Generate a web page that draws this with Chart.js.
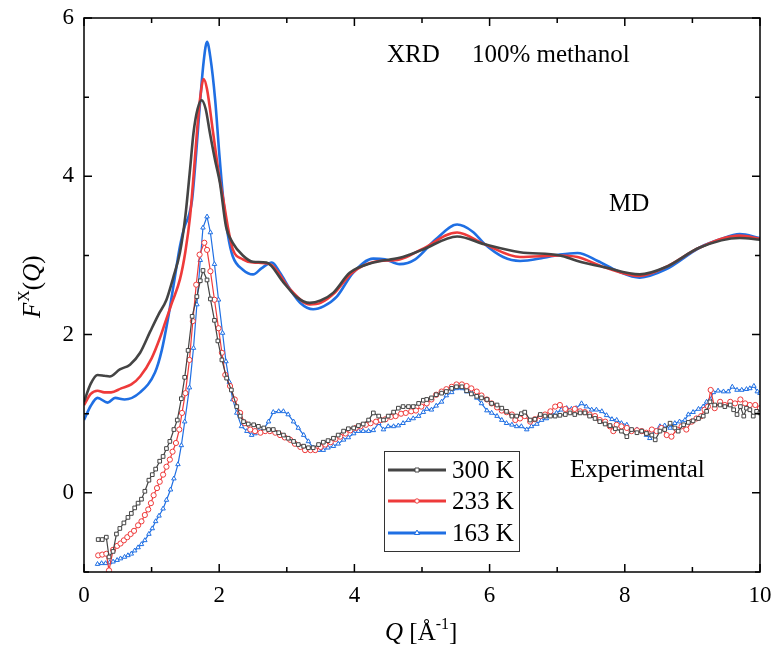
<!DOCTYPE html>
<html>
<head>
<meta charset="utf-8">
<script src="https://cdn.jsdelivr.net/npm/chart.js@4/dist/chart.umd.min.js"></script>
<style>
  body { margin: 0; background: #fff; }
</style>
</head>
<body>
<canvas id="chart" width="774" height="651"></canvas>
<script>
// MD curves (smooth lines)
const qMd300 = [0, 0.1, 0.2, 0.3, 0.38, 0.53, 0.68, 0.83, 0.98, 1.1, 1.22, 1.32, 1.42, 1.5, 1.57, 1.62, 1.68, 1.74, 1.8, 1.86, 1.94, 2.01, 2.1, 2.2, 2.35, 2.5, 2.7, 2.95, 3.15, 3.34, 3.5, 3.69, 3.93, 4.28, 4.67, 5.0, 5.52, 5.93, 6.45, 7.04, 7.3, 7.7, 8.22, 8.6, 9.11, 9.7, 10];
const fMd300 = [1.15, 1.38, 1.49, 1.48, 1.47, 1.56, 1.62, 1.77, 2.04, 2.25, 2.44, 2.72, 3.04, 3.5, 4.1, 4.55, 4.85, 4.96, 4.85, 4.56, 4.2, 3.92, 3.37, 3.16, 3.0, 2.92, 2.91, 2.66, 2.47, 2.4, 2.43, 2.53, 2.78, 2.91, 2.97, 3.07, 3.24, 3.14, 3.04, 3.0, 2.93, 2.85, 2.76, 2.85, 3.1, 3.22, 3.2];

const qMd233 = [0, 0.1, 0.2, 0.3, 0.4, 0.55, 0.7, 0.83, 1.0, 1.12, 1.2, 1.3, 1.42, 1.5, 1.57, 1.62, 1.67, 1.72, 1.77, 1.82, 1.91, 2.0, 2.06, 2.13, 2.2, 2.35, 2.5, 2.75, 3.05, 3.34, 3.5, 3.7, 3.95, 4.3, 4.67, 5.0, 5.52, 5.93, 6.45, 7.04, 7.3, 7.7, 8.22, 8.6, 9.11, 9.7, 10];
const fMd233 = [1.11, 1.25, 1.29, 1.27, 1.27, 1.32, 1.37, 1.47, 1.7, 1.95, 2.15, 2.4, 2.7, 3.05, 3.5, 4.0, 4.55, 5.0, 5.23, 5.1, 4.55, 4.0, 3.71, 3.35, 3.08, 2.95, 2.91, 2.89, 2.57, 2.38, 2.4, 2.52, 2.77, 2.92, 2.95, 3.08, 3.29, 3.14, 2.98, 3.0, 2.98, 2.85, 2.74, 2.85, 3.1, 3.25, 3.21];

const qMd163 = [0, 0.1, 0.2, 0.35, 0.46, 0.6, 0.83, 1.05, 1.15, 1.24, 1.33, 1.42, 1.49, 1.55, 1.6, 1.66, 1.72, 1.77, 1.82, 1.87, 1.94, 2.0, 2.06, 2.13, 2.2, 2.35, 2.5, 2.63, 2.78, 2.9, 3.05, 3.2, 3.39, 3.55, 3.74, 3.98, 4.28, 4.45, 4.67, 4.9, 5.2, 5.52, 5.75, 5.93, 6.2, 6.45, 6.8, 7.04, 7.3, 7.6, 7.9, 8.22, 8.6, 9.11, 9.4, 9.7, 10];
const fMd163 = [0.92, 1.1, 1.2, 1.14, 1.2, 1.18, 1.27, 1.52, 1.8, 2.19, 2.65, 3.12, 3.37, 3.5, 3.71, 4.3, 4.97, 5.45, 5.7, 5.5, 4.97, 4.3, 3.71, 3.25, 2.99, 2.82, 2.76, 2.84, 2.91, 2.78, 2.57, 2.4, 2.32, 2.36, 2.48, 2.78, 2.96, 2.95, 2.89, 2.95, 3.2, 3.39, 3.3, 3.14, 2.98, 2.93, 2.97, 3.01, 3.03, 2.93, 2.8, 2.72, 2.82, 3.1, 3.2, 3.27, 3.22];

// Experimental curves (markers)
const qExp300 = [0.21, 0.27, 0.33, 0.37, 0.43, 0.48, 0.53, 0.59, 0.65, 0.7, 0.75, 0.8, 0.85, 0.9, 0.96, 1.01, 1.06, 1.12, 1.17, 1.22, 1.27, 1.33, 1.38, 1.44, 1.49, 1.54, 1.6, 1.67, 1.72, 1.76, 1.82, 1.87, 1.93, 1.98, 2.04, 2.11, 2.18, 2.26, 2.31, 2.36, 2.43, 2.51, 2.58, 2.66, 2.73, 2.8, 2.88, 2.95, 3.02, 3.1, 3.17, 3.25, 3.32, 3.39, 3.47, 3.54, 3.61, 3.69, 3.76, 3.84, 3.91, 3.99, 4.06, 4.13, 4.21, 4.28, 4.36, 4.43, 4.5, 4.58, 4.65, 4.72, 4.8, 4.87, 4.95, 5.02, 5.07, 5.14, 5.21, 5.29, 5.36, 5.44, 5.51, 5.59, 5.66, 5.73, 5.81, 5.88, 5.96, 6.03, 6.11, 6.18, 6.25, 6.33, 6.4, 6.47, 6.52, 6.6, 6.67, 6.75, 6.82, 6.9, 6.97, 7.04, 7.12, 7.19, 7.26, 7.34, 7.41, 7.48, 7.56, 7.63, 7.71, 7.78, 7.86, 7.95, 8.03, 8.1, 8.18, 8.25, 8.32, 8.4, 8.45, 8.52, 8.59, 8.67, 8.74, 8.79, 8.87, 8.94, 9.01, 9.09, 9.16, 9.21, 9.26, 9.33, 9.41, 9.48, 9.56, 9.61, 9.66, 9.71, 9.76, 9.8, 9.85, 9.9, 9.95, 10.0];
const fExp300 = [-0.59, -0.59, -0.56, -0.81, -0.74, -0.52, -0.45, -0.38, -0.31, -0.26, -0.19, -0.13, -0.08, 0.02, 0.16, 0.23, 0.3, 0.4, 0.46, 0.56, 0.65, 0.8, 0.92, 1.19, 1.46, 1.8, 2.23, 2.48, 2.68, 2.81, 2.69, 2.45, 2.18, 1.92, 1.68, 1.45, 1.3, 1.09, 0.97, 0.9, 0.87, 0.86, 0.84, 0.82, 0.8, 0.8, 0.76, 0.73, 0.69, 0.65, 0.61, 0.59, 0.57, 0.57, 0.61, 0.64, 0.66, 0.69, 0.73, 0.78, 0.81, 0.82, 0.85, 0.87, 0.92, 1.01, 0.97, 0.92, 0.97, 1.02, 1.07, 1.09, 1.09, 1.09, 1.13, 1.17, 1.18, 1.2, 1.24, 1.26, 1.28, 1.32, 1.34, 1.34, 1.29, 1.25, 1.22, 1.2, 1.18, 1.13, 1.11, 1.07, 1.03, 0.97, 0.97, 1.0, 1.02, 0.92, 0.93, 0.99, 0.97, 0.97, 0.97, 0.98, 0.99, 1.01, 0.99, 1.01, 1.01, 0.97, 0.94, 0.9, 0.87, 0.85, 0.81, 0.78, 0.71, 0.8, 0.76, 0.78, 0.75, 0.73, 0.67, 0.78, 0.8, 0.88, 0.82, 0.78, 0.86, 0.89, 0.91, 0.94, 0.97, 1.03, 1.15, 1.11, 1.11, 1.09, 1.11, 1.05, 0.99, 1.09, 0.97, 1.07, 1.05, 0.97, 1.03, 1.01];

const qExp233 = [0.21, 0.27, 0.33, 0.37, 0.43, 0.49, 0.54, 0.59, 0.64, 0.69, 0.74, 0.8, 0.85, 0.9, 0.95, 0.99, 1.03, 1.08, 1.12, 1.17, 1.22, 1.27, 1.31, 1.36, 1.41, 1.45, 1.5, 1.56, 1.61, 1.66, 1.71, 1.78, 1.82, 1.87, 1.93, 1.99, 2.04, 2.09, 2.16, 2.23, 2.31, 2.38, 2.46, 2.53, 2.61, 2.68, 2.75, 2.83, 2.9, 2.97, 3.05, 3.12, 3.2, 3.27, 3.35, 3.42, 3.5, 3.57, 3.65, 3.72, 3.79, 3.87, 3.94, 4.02, 4.09, 4.17, 4.24, 4.32, 4.39, 4.46, 4.54, 4.61, 4.69, 4.76, 4.84, 4.91, 4.99, 5.07, 5.14, 5.21, 5.29, 5.36, 5.44, 5.51, 5.59, 5.66, 5.73, 5.81, 5.88, 5.96, 6.03, 6.11, 6.18, 6.25, 6.33, 6.38, 6.45, 6.52, 6.6, 6.67, 6.75, 6.82, 6.9, 6.97, 7.04, 7.12, 7.19, 7.26, 7.34, 7.41, 7.48, 7.56, 7.63, 7.71, 7.78, 7.83, 7.88, 7.95, 8.03, 8.1, 8.18, 8.25, 8.32, 8.4, 8.47, 8.54, 8.62, 8.69, 8.77, 8.84, 8.91, 8.99, 9.06, 9.13, 9.18, 9.23, 9.27, 9.33, 9.41, 9.48, 9.56, 9.63, 9.71, 9.78, 9.85, 9.93, 10.0];
const fExp233 = [-0.79, -0.78, -0.77, -0.98, -0.72, -0.67, -0.64, -0.6, -0.56, -0.52, -0.48, -0.41, -0.36, -0.28, -0.21, -0.13, -0.03, 0.06, 0.14, 0.23, 0.33, 0.42, 0.52, 0.63, 0.8, 1.01, 1.26, 1.68, 2.17, 2.63, 3.01, 3.16, 3.07, 2.8, 2.44, 2.08, 1.77, 1.49, 1.35, 1.18, 1.01, 0.88, 0.8, 0.78, 0.76, 0.78, 0.78, 0.76, 0.73, 0.7, 0.67, 0.62, 0.58, 0.54, 0.54, 0.54, 0.58, 0.61, 0.64, 0.68, 0.71, 0.75, 0.79, 0.82, 0.84, 0.86, 0.88, 0.9, 0.92, 0.93, 0.96, 0.97, 1.0, 1.01, 1.03, 1.04, 1.09, 1.13, 1.18, 1.24, 1.28, 1.31, 1.34, 1.37, 1.37, 1.35, 1.32, 1.28, 1.23, 1.18, 1.13, 1.08, 1.04, 1.02, 0.99, 0.92, 0.94, 0.97, 0.9, 0.93, 0.97, 0.99, 1.03, 1.09, 1.11, 1.06, 1.03, 1.06, 1.03, 1.02, 0.99, 0.97, 0.92, 0.9, 0.84, 0.78, 0.86, 0.84, 0.82, 0.78, 0.79, 0.78, 0.76, 0.8, 0.78, 0.82, 0.73, 0.71, 0.8, 0.84, 0.8, 0.9, 0.94, 0.97, 1.05, 1.09, 1.3, 1.07, 1.15, 1.11, 1.15, 1.13, 1.18, 1.13, 1.11, 1.11, 1.07];

const qExp163 = [0.2, 0.26, 0.32, 0.38, 0.43, 0.49, 0.54, 0.6, 0.65, 0.7, 0.75, 0.8, 0.85, 0.9, 0.96, 1.01, 1.06, 1.11, 1.17, 1.22, 1.28, 1.33, 1.39, 1.44, 1.49, 1.56, 1.62, 1.67, 1.72, 1.76, 1.82, 1.87, 1.93, 1.99, 2.05, 2.1, 2.15, 2.2, 2.26, 2.33, 2.41, 2.48, 2.53, 2.58, 2.66, 2.73, 2.8, 2.88, 2.95, 3.02, 3.1, 3.17, 3.25, 3.32, 3.39, 3.47, 3.54, 3.61, 3.69, 3.76, 3.84, 3.91, 3.99, 4.06, 4.13, 4.21, 4.28, 4.36, 4.43, 4.5, 4.58, 4.65, 4.72, 4.8, 4.87, 4.95, 5.02, 5.07, 5.14, 5.21, 5.29, 5.36, 5.44, 5.51, 5.59, 5.66, 5.73, 5.81, 5.88, 5.96, 6.03, 6.11, 6.18, 6.25, 6.33, 6.4, 6.47, 6.55, 6.62, 6.7, 6.77, 6.84, 6.92, 6.99, 7.06, 7.14, 7.21, 7.28, 7.36, 7.43, 7.51, 7.58, 7.66, 7.73, 7.81, 7.88, 7.95, 8.03, 8.1, 8.18, 8.25, 8.32, 8.37, 8.45, 8.52, 8.59, 8.67, 8.74, 8.81, 8.89, 8.94, 9.01, 9.09, 9.16, 9.21, 9.26, 9.31, 9.38, 9.46, 9.53, 9.59, 9.66, 9.73, 9.8, 9.85, 9.91, 9.96, 10.0];
const fExp163 = [-0.9, -0.89, -0.89, -0.88, -0.87, -0.85, -0.83, -0.81, -0.79, -0.77, -0.73, -0.69, -0.65, -0.6, -0.52, -0.45, -0.36, -0.29, -0.2, -0.09, 0.04, 0.18, 0.36, 0.6, 0.9, 1.33, 1.83, 2.38, 2.94, 3.35, 3.49, 3.29, 2.89, 2.44, 2.02, 1.66, 1.4, 1.18, 1.01, 0.84, 0.78, 0.73, 0.75, 0.78, 0.81, 0.9, 1.02, 1.03, 1.03, 0.99, 0.9, 0.82, 0.73, 0.65, 0.57, 0.54, 0.54, 0.57, 0.59, 0.62, 0.67, 0.7, 0.75, 0.78, 0.78, 0.78, 0.79, 0.88, 0.8, 0.84, 0.84, 0.85, 0.88, 0.92, 0.94, 0.97, 1.02, 1.06, 1.05, 1.1, 1.15, 1.23, 1.27, 1.32, 1.32, 1.28, 1.27, 1.2, 1.13, 1.04, 1.01, 0.97, 0.92, 0.88, 0.86, 0.84, 0.84, 0.8, 0.84, 0.87, 0.92, 0.94, 0.99, 1.01, 1.05, 1.07, 1.06, 1.07, 1.13, 1.09, 1.05, 1.05, 1.03, 0.98, 0.93, 0.92, 0.88, 0.86, 0.79, 0.8, 0.78, 0.73, 0.69, 0.78, 0.84, 0.85, 0.82, 0.88, 0.9, 0.92, 0.99, 1.02, 1.06, 1.09, 1.15, 1.18, 1.27, 1.29, 1.28, 1.28, 1.34, 1.3, 1.3, 1.31, 1.32, 1.35, 1.28, 1.26];

const seriesNames = ['300 K', '233 K', '163 K'];
const seriesColors = ['#444444', '#ee3a3a', '#1f6fe3'];
const markerStyles = ['rect', 'circle', 'triangle'];

const FONT = "'Liberation Serif', 'Times New Roman', serif";

function pairs(qs, fs) {
  return qs.map((q, i) => ({ x: q, y: fs[i] }));
}

const mdSets = [[qMd300, fMd300], [qMd233, fMd233], [qMd163, fMd163]];
const expSets = [[qExp300, fExp300], [qExp233, fExp233], [qExp163, fExp163]];

const datasets = [];
expSets.forEach((s, i) => {
  datasets.push({
    label: seriesNames[i] + ' exp',
    data: pairs(s[0], s[1]),
    borderColor: seriesColors[i],
    borderWidth: 1.2,
    pointStyle: markerStyles[i],
    pointRadius: 2.6,
    pointBorderWidth: 1,
    pointBackgroundColor: '#ffffff',
    pointBorderColor: seriesColors[i],
    tension: 0
  });
});
mdSets.forEach((s, i) => {
  datasets.push({
    label: seriesNames[i] + ' MD',
    data: pairs(s[0], s[1]),
    borderColor: seriesColors[i],
    borderWidth: 2.6,
    pointRadius: 0,
    cubicInterpolationMode: 'monotone'
  });
});

const decorations = {
  id: 'decorations',
  afterDraw(chart) {
    const ctx = chart.ctx;
    const a = chart.chartArea;
    const xs = chart.scales.x;
    const ys = chart.scales.y;
    ctx.save();
    ctx.strokeStyle = '#000';
    ctx.lineWidth = 1.5;
    ctx.strokeRect(a.left, a.top, a.right - a.left, a.bottom - a.top);

    // inward ticks on all four sides
    for (let v = 0; v <= 10; v++) {
      const px = xs.getPixelForValue(v);
      const len = v % 2 === 0 ? 8 : 5;
      ctx.beginPath();
      ctx.moveTo(px, a.bottom); ctx.lineTo(px, a.bottom - len);
      ctx.moveTo(px, a.top); ctx.lineTo(px, a.top + len);
      ctx.stroke();
    }
    for (let v = -1; v <= 6; v++) {
      const py = ys.getPixelForValue(v);
      const len = v % 2 === 0 ? 8 : 5;
      ctx.beginPath();
      ctx.moveTo(a.left, py); ctx.lineTo(a.left + len, py);
      ctx.moveTo(a.right, py); ctx.lineTo(a.right - len, py);
      ctx.stroke();
    }

    // annotations
    ctx.fillStyle = '#000';
    ctx.font = '25px ' + FONT;
    ctx.textBaseline = 'alphabetic';
    ctx.textAlign = 'left';
    ctx.fillText('XRD', 387, 62);
    ctx.fillText('100% methanol', 472, 62);
    ctx.fillText('MD', 609, 211);
    ctx.fillText('Experimental', 570, 477);

    // legend
    ctx.lineWidth = 1;
    ctx.strokeStyle = '#333';
    ctx.strokeRect(384.5, 451.5, 135, 100);
    const rows = [470, 501, 533];
    rows.forEach((ry, i) => {
      ctx.strokeStyle = seriesColors[i];
      ctx.lineWidth = 3;
      ctx.beginPath();
      ctx.moveTo(388, ry); ctx.lineTo(446, ry);
      ctx.stroke();
      ctx.lineWidth = 1;
      ctx.fillStyle = '#fff';
      ctx.beginPath();
      if (i === 0) {
        ctx.rect(415, ry - 2, 4, 4);
      } else if (i === 1) {
        ctx.arc(417, ry, 2.2, 0, Math.PI * 2);
      } else {
        ctx.moveTo(417, ry - 3); ctx.lineTo(419.6, ry + 1.5); ctx.lineTo(414.4, ry + 1.5); ctx.closePath();
      }
      ctx.fill();
      ctx.stroke();
      ctx.fillStyle = '#000';
      ctx.font = '25px ' + FONT;
      ctx.textBaseline = 'middle';
      ctx.fillText(seriesNames[i], 452, ry + 1);
    });

    // x axis title: Q [Å^-1]
    ctx.textBaseline = 'alphabetic';
    let x = 385;
    const by = 640;
    ctx.font = 'italic 25px ' + FONT;
    ctx.fillText('Q', x, by);
    x += ctx.measureText('Q').width;
    ctx.font = '25px ' + FONT;
    ctx.fillText(' [Å', x, by);
    x += ctx.measureText(' [Å').width;
    ctx.font = '16px ' + FONT;
    ctx.fillText('-1', x, by - 11);
    x += ctx.measureText('-1').width;
    ctx.font = '25px ' + FONT;
    ctx.fillText(']', x, by);

    // y axis title: F^X(Q)
    ctx.translate(40, 318);
    ctx.rotate(-Math.PI / 2);
    let t = 0;
    ctx.font = 'italic 25px ' + FONT;
    ctx.fillText('F', t, 0);
    t += ctx.measureText('F').width + 1;
    ctx.font = '16px ' + FONT;
    ctx.fillText('X', t, -11);
    t += ctx.measureText('X').width;
    ctx.font = '25px ' + FONT;
    ctx.fillText('(', t, 0);
    t += ctx.measureText('(').width;
    ctx.font = 'italic 25px ' + FONT;
    ctx.fillText('Q', t, 0);
    t += ctx.measureText('Q').width;
    ctx.font = '25px ' + FONT;
    ctx.fillText(')', t, 0);
    ctx.restore();
  }
};

new Chart(document.getElementById('chart'), {
  type: 'line',
  data: { datasets: datasets },
  options: {
    responsive: false,
    animation: false,
    layout: { padding: { top: 18, right: 14, left: 0, bottom: 0 } },
    plugins: { legend: { display: false }, tooltip: { enabled: false } },
    scales: {
      x: {
        type: 'linear',
        min: 0, max: 10,
        grid: { display: false, drawTicks: false },
        border: { display: false },
        ticks: {
          stepSize: 1,
          padding: 10,
          color: '#000',
          font: { family: FONT, size: 23 },
          maxRotation: 0,
          autoSkip: false,
          callback: v => (v % 2 === 0 ? String(v) : '')
        },
        afterFit: s => { s.height = 79; s.paddingLeft = 0; s.paddingRight = 0; }
      },
      y: {
        min: -1, max: 6,
        grid: { display: false, drawTicks: false },
        border: { display: false },
        ticks: {
          stepSize: 1,
          padding: 10,
          color: '#000',
          font: { family: FONT, size: 23 },
          autoSkip: false,
          callback: v => (v % 2 === 0 ? String(v) : '')
        },
        afterFit: s => { s.width = 84; s.paddingTop = 0; s.paddingBottom = 0; }
      }
    }
  },
  plugins: [decorations]
});
</script>
</body>
</html>
